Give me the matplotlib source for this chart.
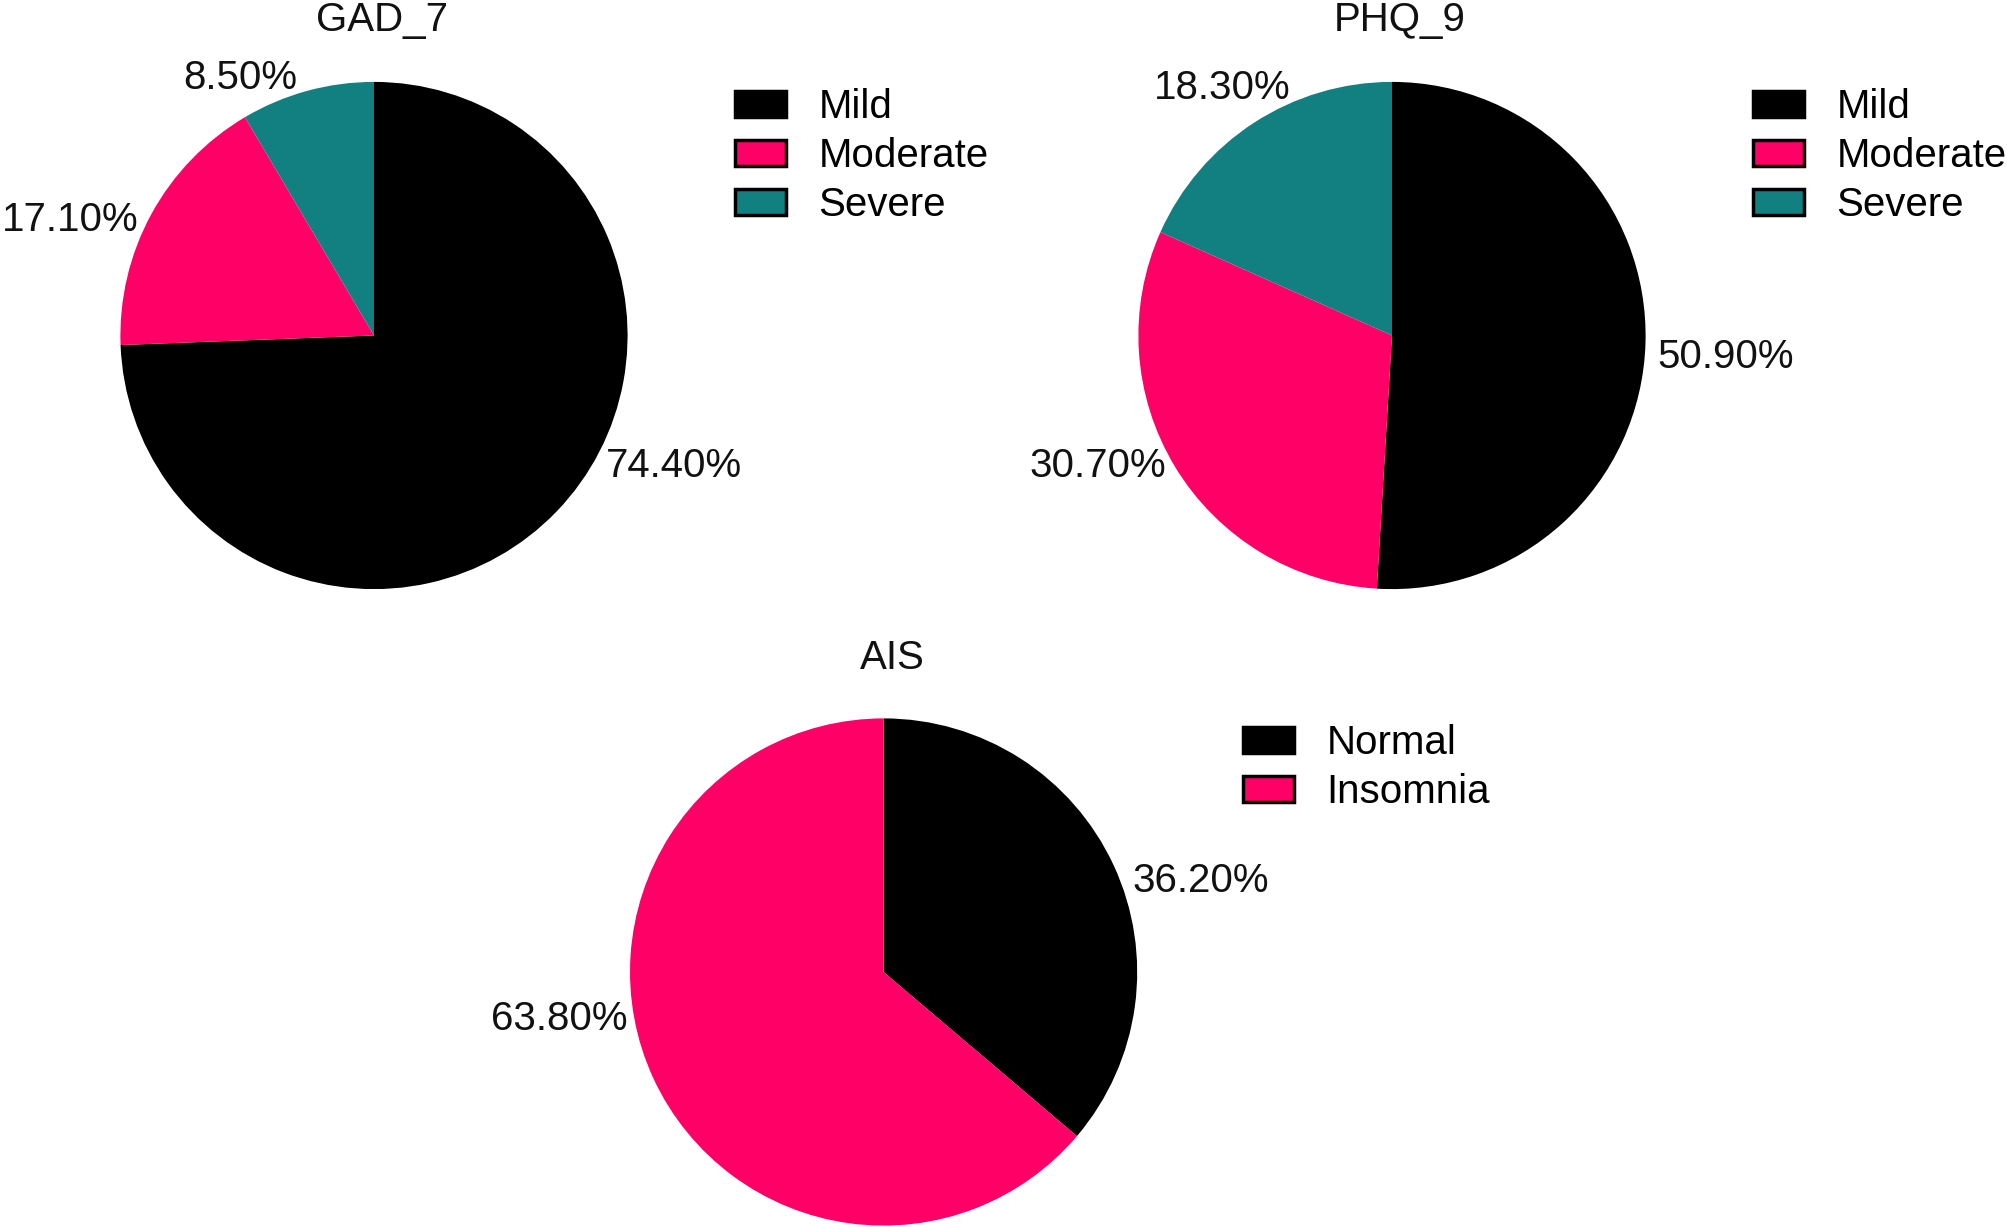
import matplotlib
matplotlib.use("Agg")
import matplotlib.pyplot as plt

plt.rcParams['font.family'] = ['Liberation Sans', 'DejaVu Sans']

# ---- data ----
gad_labels = ["Mild", "Moderate", "Severe"]
gad_values = [74.4, 17.1, 8.5]
phq_labels = ["Mild", "Moderate", "Severe"]
phq_values = [50.9, 30.7, 18.3]
ais_labels = ["Normal", "Insomnia"]
ais_values = [36.2, 63.8]
titles = ["GAD_7", "PHQ_9", "AIS"]

# ---- styles / layout ----
BLACK = "#000000"
PINK = "#FF0066"
TEAL = "#128080"
FS = 29
W, H = 2008, 1227
R = 253.6  # pie radius in pixels

fig = plt.figure(figsize=(W / 100, H / 100), dpi=100)

# pie centres (pixels from top-left), label positions (units of radius)
layout = [
    dict(center=(374, 335.5), colors=[BLACK, PINK, TEAL],
         pct_pos=[(0.914, -0.515, 'left'), (-0.929, 0.455, 'right'), (-0.303, 1.015, 'right')],
         title_pos=(0.03, 1.245), legend_anchor=(735, 88)),
    dict(center=(1392, 335.5), colors=[BLACK, PINK, TEAL],
         pct_pos=[(1.045, -0.086, 'left'), (-0.889, -0.515, 'right'), (-0.399, 0.975, 'right')],
         title_pos=(0.03, 1.245), legend_anchor=(1753, 88)),
    dict(center=(883.6, 972), colors=[BLACK, PINK],
         pct_pos=[(0.98, 0.359, 'left'), (-1.01, -0.187, 'right')],
         title_pos=(0.035, 1.237), legend_anchor=(1243, 724)),
]

datasets = [(gad_labels, gad_values), (phq_labels, phq_values), (ais_labels, ais_values)]

for (labels, values), lay, title in zip(datasets, layout, titles):
    cx, cy = lay["center"]
    ax = fig.add_axes([(cx - R) / W, (H - cy - R) / H, 2 * R / W, 2 * R / H])
    wedges, _ = ax.pie(values, colors=lay["colors"], startangle=90, counterclock=False,
                       radius=1, wedgeprops=dict(linewidth=0))
    ax.set_xlim(-1, 1)
    ax.set_ylim(-1, 1)
    ax.axis('off')
    for v, (px, py, ha) in zip(values, lay["pct_pos"]):
        ax.text(px, py, f"{v:.2f}%", ha=ha, va='center', fontsize=FS, color='#111111')
    tx, ty = lay["title_pos"]
    ax.text(tx, ty, title, ha='center', va='center', fontsize=FS, color='#111111')
    lx, ly = lay["legend_anchor"]
    handles = [plt.Rectangle((0, 0), 1, 1, facecolor=c, edgecolor='black', linewidth=2.5)
               for c in lay["colors"]]
    fig.legend(handles, labels, loc='upper left', bbox_to_anchor=(lx / W, 1 - ly / H),
               bbox_transform=fig.transFigure, frameon=False, fontsize=FS,
               borderpad=0, borderaxespad=0, handlelength=1.27, handleheight=0.62,
               handletextpad=0.8, labelspacing=0.27)

fig.savefig("out.png", dpi=100)
